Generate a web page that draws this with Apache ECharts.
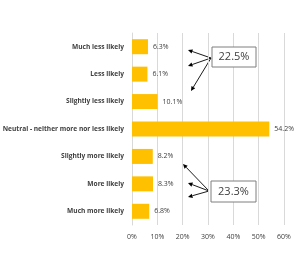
<!DOCTYPE html>
<html>
<head>
<meta charset="utf-8">
<script src="https://cdn.jsdelivr.net/npm/echarts@6/dist/echarts.min.js"></script>
<style>
    html, body { margin: 0; padding: 0; background: #fff; }
    #main { width: 300px; height: 271px; }
</style>
</head>
<body>
<div id="main"></div>
<script>
var categories = ['Much less likely', 'Less likely', 'Slightly less likely',
    'Neutral - neither more nor less likely', 'Slightly more likely',
    'More likely', 'Much more likely'];
var values = [6.3, 6.1, 10.1, 54.2, 8.2, 8.3, 6.8];
var xTicks = [0, 10, 20, 30, 40, 50, 60];
var callouts = ['22.5%', '23.3%'];

var txt = '#404040';
var font = '"Open Sans", sans-serif';

// arrow line + head
function arrow(x1, y1, x2, y2) {
    var a = Math.atan2(y2 - y1, x2 - x1), L = 4.5, w = 2.2;
    var bx = x2 - L * Math.cos(a), by = y2 - L * Math.sin(a);
    return [
        { type: 'line', shape: { x1: x1, y1: y1, x2: bx, y2: by }, style: { stroke: '#000', lineWidth: 0.9 } },
        { type: 'polygon', shape: { points: [[x2, y2], [bx - w * Math.sin(a), by + w * Math.cos(a)], [bx + w * Math.sin(a), by - w * Math.cos(a)]] }, style: { fill: '#000' } }
    ];
}

function box(x, y, w, h, text) {
    return [
        { type: 'rect', shape: { x: x, y: y, width: w, height: h }, style: { fill: '#fff', stroke: '#7f7f7f', lineWidth: 1 }, z: 10 },
        { type: 'text', x: x + w / 2, y: y + h / 2, z: 11, style: { text: text, fill: txt, font: '11px ' + font, align: 'center', verticalAlign: 'middle' } }
    ];
}

var graphics = [].concat(
    arrow(211, 58, 188, 50), arrow(211, 58, 188, 66), arrow(211, 58, 191, 91),
    arrow(209, 191, 183, 164), arrow(209, 191, 188, 183), arrow(209, 191, 188, 197),
    box(212, 47, 44, 20, callouts[0]), box(211, 181, 45, 21, callouts[1])
);

var myChart = echarts.init(document.getElementById('main'));
myChart.setOption({
    animation: false,
    grid: { left: 132, right: 16, top: 33, bottom: 46, outerBoundsMode: 'none', containLabel: false },
    xAxis: {
        type: 'value',
        min: 0,
        max: 60,
        interval: 10,
        axisLine: { show: false },
        axisTick: { show: false },
        splitLine: { lineStyle: { color: '#d9d9d9', width: 1 } },
        axisLabel: {
            color: txt,
            fontSize: 7,
            fontFamily: font,
            margin: 8,
            formatter: function (v) { return xTicks.indexOf(v) >= 0 ? v + '%' : ''; }
        }
    },
    yAxis: {
        type: 'category',
        inverse: true,
        data: categories,
        axisLine: { lineStyle: { color: '#d9d9d9' } },
        axisTick: { show: false },
        axisLabel: {
            color: txt,
            fontSize: 6.6,
            fontWeight: 'bold',
            fontFamily: font,
            margin: 8
        }
    },
    series: [
        {
            type: 'bar',
            data: values,
            barWidth: 15,
            itemStyle: { color: '#ffc000' },
            label: {
                show: true,
                position: 'right',
                distance: 5,
                color: txt,
                fontSize: 7,
                fontFamily: font,
                formatter: function (p) { return p.value.toFixed(1) + '%'; }
            }
        }
    ],
    graphic: graphics
});
</script>
</body>
</html>
